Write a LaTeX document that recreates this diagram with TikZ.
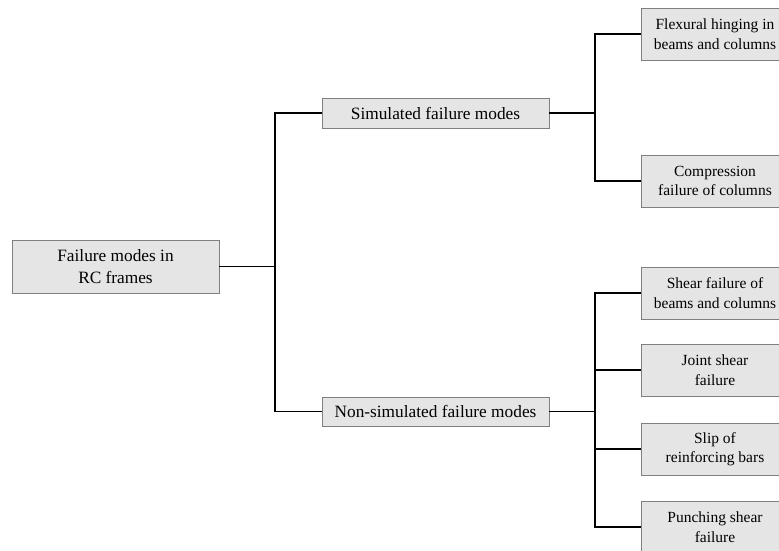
\documentclass[tikz,border=0pt]{standalone}
\usepackage{fontspec}
\setmainfont{Liberation Serif}
\begin{document}
\begin{tikzpicture}[x=1pt,y=-1pt,
  fbox/.style={draw=black!50,line width=0.9pt,fill=black!10,align=center,inner sep=0pt,
    font=\fontsize{15.5}{19.5}\selectfont},
  bigbox/.style={fbox,font=\fontsize{17.3}{21.5}\selectfont},
  conn/.style={line width=1.4pt,black}]
\useasboundingbox (0,0) rectangle (779,550);
\clip (0,0) rectangle (779,550);
\node[bigbox,minimum width=207pt,minimum height=53pt] (root) at (115.5,266.5) {Failure modes in\\RC frames};
\node[bigbox,minimum width=227pt,minimum height=30pt] (sim) at (435.5,113) {Simulated failure modes};
\node[bigbox,minimum width=227pt,minimum height=29pt] (non) at (435.5,411.5) {Non-simulated failure modes};
\node[fbox,minimum width=148pt,minimum height=52pt] (flex) at (715,34) {Flexural hinging in\\beams and columns};
\node[fbox,minimum width=148pt,minimum height=52pt] (comp) at (715,181) {Compression\\failure of columns};
\node[fbox,minimum width=148pt,minimum height=52pt] (shear) at (715,293) {Shear failure of\\beams and columns};
\node[fbox,minimum width=148pt,minimum height=52pt] (joint) at (715,370) {Joint shear\\failure};
\node[fbox,minimum width=148pt,minimum height=52pt] (slip) at (715,449) {Slip of\\reinforcing bars};
\node[fbox,minimum width=148pt,minimum height=52pt] (punch) at (715,527) {Punching shear\\failure};
\coordinate (j1) at (275,266.5);
\coordinate (j2) at (595,113);
\coordinate (j3) at (595,411.5);
\draw[conn] (root.east) -- (j1);
\draw[conn] (j1) |- (sim.west);
\draw[conn] (j1) |- (non.west);
\draw[conn] (sim.east) -- (j2);
\draw[conn] (j2) |- (flex.west);
\draw[conn] (j2) |- (comp.west);
\draw[conn] (non.east) -- (j3);
\draw[conn] (j3) |- (shear.west);
\draw[conn] (j3) |- (joint.west);
\draw[conn] (j3) |- (slip.west);
\draw[conn] (j3) |- (punch.west);
\end{tikzpicture}
\end{document}
